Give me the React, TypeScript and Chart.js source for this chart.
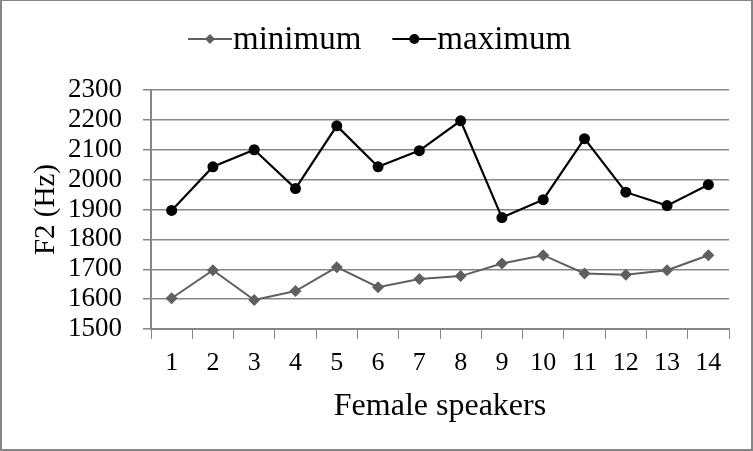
import React, { useEffect, useRef } from "react";
import { Chart, registerables } from "chart.js";

Chart.register(...registerables);

const speakers = ["1", "2", "3", "4", "5", "6", "7", "8", "9", "10", "11", "12", "13", "14"];
const minimumValues = [1603, 1697, 1597, 1627, 1707, 1640, 1667, 1677, 1719, 1747, 1686, 1682, 1697, 1747];
const maximumValues = [1897, 2043, 2100, 1970, 2180, 2043, 2097, 2197, 1873, 1933, 2137, 1958, 1913, 1983];
const seriesNames = ["minimum", "maximum"];
const yTitle = "F2 (Hz)";
const xTitle = "Female speakers";

const FONT = "'Liberation Serif', 'Times New Roman', serif";
const MIN_COLOR = "#5f5f5f";
const MAX_COLOR = "#000000";
const GRID = "#878787";

const legendPlugin = {
  id: "lineLegend",
  afterDraw(chart: any) {
    const ctx = chart.ctx as CanvasRenderingContext2D;
    const fontSize = 33;
    const lineW = 44;
    const gap = 32;
    const lineY = 39;
    const baseY = 49;
    ctx.save();
    ctx.font = `${fontSize}px ${FONT}`;
    const items = chart.data.datasets.map((ds: any) => ({
      ds,
      w: ctx.measureText(ds.label).width,
    }));
    let x = 188;
    items.forEach((it: any) => {
      const color = it.ds.borderColor;
      ctx.strokeStyle = color;
      ctx.lineWidth = 2;
      ctx.beginPath();
      ctx.moveTo(x, lineY);
      ctx.lineTo(x + lineW, lineY);
      ctx.stroke();
      const cx = x + lineW / 2;
      ctx.fillStyle = color;
      ctx.beginPath();
      if (it.ds.pointStyle === "circle") {
        ctx.arc(cx, lineY, 5, 0, Math.PI * 2);
      } else {
        ctx.moveTo(cx, lineY - 5);
        ctx.lineTo(cx + 5, lineY);
        ctx.lineTo(cx, lineY + 5);
        ctx.lineTo(cx - 5, lineY);
        ctx.closePath();
      }
      ctx.fill();
      ctx.fillStyle = "#000";
      ctx.textBaseline = "alphabetic";
      ctx.textAlign = "left";
      ctx.fillText(it.ds.label, x + lineW + 1, baseY);
      x += lineW + it.w + gap;
    });
    ctx.restore();
  },
};

export default function App() {
  const ref = useRef<HTMLCanvasElement | null>(null);

  useEffect(() => {
    if (!ref.current) return;
    const chart = new Chart(ref.current, {
      type: "line",
      data: {
        labels: speakers,
        datasets: [
          {
            label: seriesNames[0],
            data: minimumValues,
            borderColor: MIN_COLOR,
            backgroundColor: MIN_COLOR,
            borderWidth: 2,
            pointStyle: "rectRot",
            pointRadius: 6,
            pointBorderWidth: 0,
            tension: 0,
          },
          {
            label: seriesNames[1],
            data: maximumValues,
            borderColor: MAX_COLOR,
            backgroundColor: MAX_COLOR,
            borderWidth: 2.2,
            pointStyle: "circle",
            pointRadius: 5.5,
            pointBorderWidth: 0,
            tension: 0,
          },
        ],
      },
      plugins: [legendPlugin],
      options: {
        responsive: false,
        animation: false,
        layout: { padding: { left: 20, right: 24, top: 90, bottom: 25 } },
        plugins: {
          tooltip: { enabled: false },
          legend: { display: false },
        },
        scales: {
          x: {
            offset: true,
            afterFit: (s: any) => {
              s.height = 97;
            },
            grid: {
              offset: true,
              drawOnChartArea: false,
              drawTicks: true,
              tickLength: 10,
              color: GRID,
              lineWidth: 1,
            },
            border: { color: GRID, width: 2 },
            ticks: {
              color: "#000",
              font: { family: FONT, size: 26 },
              padding: 9,
              maxRotation: 0,
              autoSkip: false,
            },
            title: {
              display: true,
              text: xTitle,
              color: "#000",
              font: { family: FONT, size: 32 },
              padding: { top: 4, bottom: 0 },
            },
          },
          y: {
            min: 1500,
            max: 2300,
            afterFit: (s: any) => {
              s.width = 131;
            },
            grid: {
              color: GRID,
              lineWidth: 1.5,
              tickLength: 8,
              drawTicks: true,
            },
            border: { color: GRID, width: 2 },
            ticks: {
              stepSize: 100,
              autoSkip: false,
              color: "#000",
              font: { family: FONT, size: 27 },
              padding: 21,
              callback: (v: any) => String(v),
            },
            title: {
              display: true,
              text: yTitle,
              color: "#000",
              font: { family: FONT, size: 29 },
              padding: { top: 9, bottom: 0 },
            },
          },
        },
      },
    });
    return () => chart.destroy();
  }, []);

  return (
    <div style={{ position: "absolute", left: 0, top: 0, width: 753, height: 451, background: "#fff" }}>
      <canvas ref={ref} width={753} height={451} style={{ display: "block" }} />
      <div
        style={{
          position: "absolute",
          left: 0,
          top: 0,
          width: 753,
          height: 451,
          boxSizing: "border-box",
          borderStyle: "solid",
          borderColor: "#868686",
          borderWidth: "1px 2px 2px 2px",
          pointerEvents: "none",
        }}
      />
    </div>
  );
}
